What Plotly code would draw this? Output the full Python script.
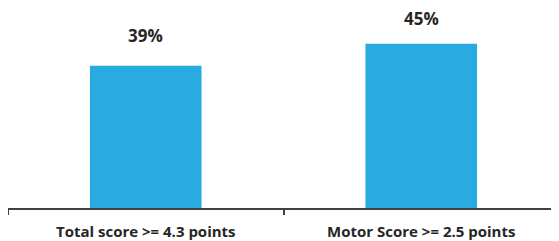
import plotly.graph_objects as go

categories = ["Total score >= 4.3 points", "Motor Score >= 2.5 points"]
values = [39, 45]
value_labels = ["39%", "45%"]
label_shifts = [30, 25]

fig = go.Figure()
fig.add_trace(go.Bar(
    x=categories, y=values,
    marker=dict(color="#29ABE2", line=dict(width=0)),
    width=0.405,
    hoverinfo="skip",
))

for c, v, t, s in zip(categories, values, value_labels, label_shifts):
    fig.add_annotation(
        x=c, y=v, text=t, showarrow=False, yshift=s,
        font=dict(family="Open Sans", size=17, color="#262626", weight="bold"),
    )

fig.update_layout(
    width=551, height=233,
    margin=dict(l=0, r=0, t=0, b=33, autoexpand=False),
    paper_bgcolor="white", plot_bgcolor="white",
    showlegend=False,
    xaxis=dict(
        automargin=False,
        showline=True, linecolor="#404040", linewidth=1.5,
        ticks="outside", tickson="boundaries", ticklen=5, tickwidth=1.5, tickcolor="#404040",
        ticklabelstandoff=9,
        tickfont=dict(family="Open Sans", size=15, color="#262626", weight="bold"),
        showgrid=False, zeroline=False,
    ),
    yaxis=dict(range=[0, 54.8], visible=False, showgrid=False, zeroline=False, automargin=False),
)

fig.write_html("out.html")
